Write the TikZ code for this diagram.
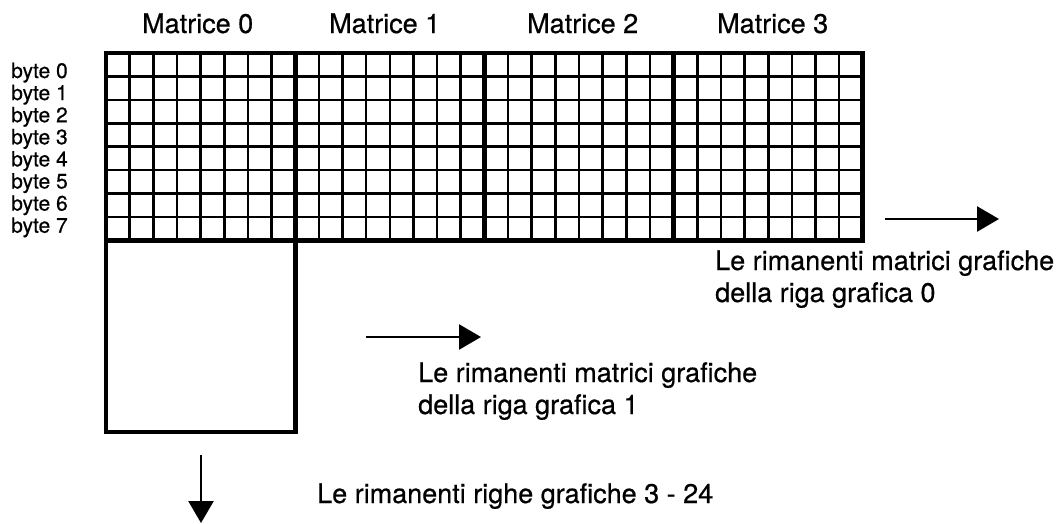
\documentclass[tikz,border=0pt]{standalone}
\usepackage{fontspec}
\setmainfont[FakeBold=0.6]{TeX Gyre Heros}
\usetikzlibrary{arrows.meta}

\begin{document}
\begin{tikzpicture}[x=1pt,y=-1pt,
		testo/.style={anchor=base west,inner sep=0pt,align=left,font=\fontsize{27}{32}\selectfont},
		testobyte/.style={anchor=base west,inner sep=0pt,font=\fontsize{21}{22}\selectfont},
		freccia/.style={line width=2.6pt,-{Triangle[length=22pt,width=25pt]}}]
			\useasboundingbox (0,0) rectangle (1063,523);

			\node[testo] (m0) at (142,33) {Matrice 0};
			\node[testo] (m1) at (329,33) {Matrice 1};
			\node[testo] (m2) at (527,33) {Matrice 2};
			\node[testo] (m3) at (717,33) {Matrice 3};

			\foreach \k in {0,...,7}
				\node[testobyte] (b\k) at (11,{78+\k*22.1}) {byte \k};

			\foreach \i in {1,...,31}
				\draw[line width=2.6pt] ({106+\i*23.65},53) -- ({106+\i*23.65},240.2);
			\foreach \j in {1,...,7}
				\draw[line width=2.6pt] (106,{53+\j*23.4}) -- (862.8,{53+\j*23.4});
			\foreach \i in {1,2,3}
				\draw[line width=4.8pt] ({106+\i*189.2},53) -- ({106+\i*189.2},240.2);
			\draw[line width=4.8pt] (106,53) rectangle (862.8,240.2);
			\draw[line width=4.8pt] (106,240.2) rectangle (295.2,432);

			% la base del nodo e' l'ultima riga
			\coordinate (r0a) at (885,219);
			\coordinate (r0b) at (999,219);
			\draw[freccia] (r0a) -- (r0b);
			\node[testo] (riga0) at (715,302) {Le rimanenti matrici grafiche\\della riga grafica 0};

			\coordinate (r1a) at (366,337);
			\coordinate (r1b) at (481,337);
			\draw[freccia] (r1a) -- (r1b);
			\node[testo] (riga1) at (418,414) {Le rimanenti matrici grafiche\\della riga grafica 1};

			\coordinate (giua) at (201,455);
			\coordinate (giub) at (201,523);
			\draw[freccia] (giua) -- (giub);
			\node[testo] (righe) at (317,503) {Le rimanenti righe grafiche 3 - 24};
		\end{tikzpicture}
\end{document}
